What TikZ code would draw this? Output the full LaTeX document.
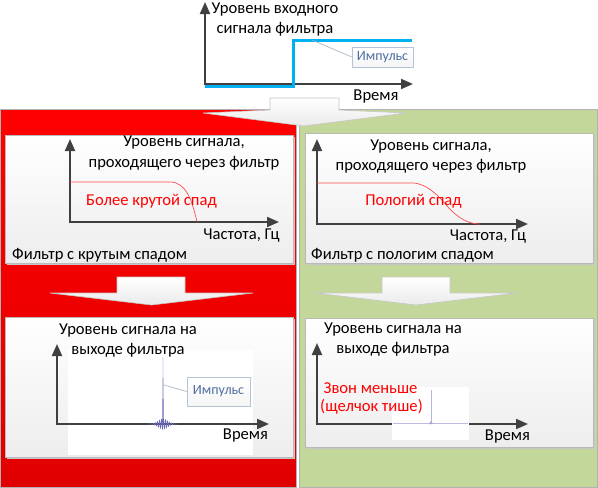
\documentclass[tikz,border=0pt]{standalone}
\usepackage{fontspec}
\setmainfont{Carlito}
\usetikzlibrary{arrows.meta}
\definecolor{axisgray}{HTML}{404040}
\definecolor{sigblue}{HTML}{00B0F0}
\definecolor{panelgreen}{HTML}{C4D79B}
\definecolor{calloutblue}{HTML}{4F6FA0}
\definecolor{calloutborder}{HTML}{B4C4D8}
\definecolor{wave}{HTML}{6A6AB8}
\definecolor{panelred}{HTML}{FF0000}
\tikzset{
  axisline/.style={draw=axisgray, line width=2pt, -{Triangle[length=12pt,width=10pt]}},
  lbl/.style={font=\fontsize{16.6}{19}\selectfont, text=black, inner sep=0pt},
  redlbl/.style={lbl, text=red},
  innerbox/.style={draw=gray!55, line width=0.8pt, top color=white, bottom color=black!7},
  boxshadow/.style={fill=gray!45},
  downarrow/.style={draw=gray!45, line width=0.6pt, top color=white, bottom color=black!8},
  callout/.style={draw=calloutborder, line width=0.6pt, top color=white, bottom color=black!4,
    minimum width=61pt, minimum height=20pt, inner sep=0pt, text=calloutblue,
    font=\fontsize{14}{16}\selectfont},
  calloutline/.style={draw=calloutborder!90!black, line width=0.6pt},
  response/.style={draw=red!70, line width=0.7pt},
}
\begin{document}
\begin{tikzpicture}[x=1pt,y=-1pt]
\useasboundingbox (0,0) rectangle (598,488);
\fill[white] (0,0) rectangle (598,488);

% ---------- top chart ----------
\draw[axisline] (205,84) -- (205,2);
\draw[axisline] (204,84) -- (413,84);
\draw[sigblue, line width=3pt] (205,86) -- (293,86) -- (293,40) -- (412,40);
\node[lbl] (t1) at (275,10) {Уровень входного};
\node[lbl] (t2) at (275,29) {сигнала фильтра};
\node[lbl] (t3) at (376,97) {Время};
\node[callout] (ib1) at (382.5,57) {Импульс};
\coordinate (cp1) at (312,40);
\draw[calloutline] (cp1) -- (ib1.west);

% ---------- panels ----------
\shade[top color=panelred, bottom color=panelred!88!black, draw=gray!60, line width=0.8pt]
  (0.5,109) rectangle (296,487.5);
\fill[panelgreen, draw=gray!60, line width=0.8pt] (299,109) rectangle (597.5,487.5);

% top down arrow
\path[downarrow] (270,98) -- (339,98) -- (339,110) -- (406,113) -- (304,126) -- (203,113) -- (270,110) -- cycle;

% ---------- left top box ----------
\fill[boxshadow] (6.5,136.5) rectangle (294.5,264.5);
\path[innerbox] (5,135) rectangle (293,263);
\draw[axisline] (70,222) -- (70,139);
\draw[axisline] (69,222) -- (279,222);
\draw[response] (70,182) -- (170,182) .. controls (186,182) and (192,200) .. (197,222);
\node[lbl] (a1) at (184,143) {Уровень сигнала,};
\node[lbl] (a2) at (184,163) {проходящего через фильтр};
\node[redlbl] (a3) at (151.5,201) {Более крутой спад};
\node[lbl] (a4) at (241.5,236) {Частота, Гц};
\node[lbl, anchor=west] (a5) at (12,255) {Фильтр с крутым спадом};

% ---------- right top box ----------
\fill[boxshadow] (306.5,134.5) rectangle (594.5,264.5);
\path[innerbox] (305,133) rectangle (593,263);
\draw[axisline] (317,224) -- (317,139);
\draw[axisline] (316,224) -- (528,224);
\draw[response] (317,183) -- (412,183) .. controls (428,183) and (440,198) .. (448,207)
  .. controls (458,218) and (468,224) .. (480,224);
\node[lbl] (b1) at (431,147) {Уровень сигнала,};
\node[lbl] (b2) at (431,166) {проходящего через фильтр};
\node[redlbl] (b3) at (413.5,201) {Пологий спад};
\node[lbl] (b4) at (488,237) {Частота, Гц};
\node[lbl, anchor=west] (b5) at (311,255) {Фильтр с пологим спадом};

% ---------- lower arrows ----------
\path[downarrow] (117,277) -- (185,277) -- (185,293) -- (253,293) -- (151.5,305) -- (50,293) -- (117,293) -- cycle;
\path[downarrow] (382,277) -- (450,277) -- (450,293) -- (517,293) -- (416,305) -- (315,293) -- (382,293) -- cycle;

% ---------- left bottom box ----------
\fill[boxshadow] (6.5,318.5) rectangle (294.5,458.5);
\path[innerbox] (5,317) rectangle (293,457);
\fill[white] (68,350) rectangle (253,455);
\draw[axisline] (57,424) -- (57,344);
\draw[axisline] (56,424) -- (269,424);
\draw[wave, line width=0.5pt] plot[domain=0:30, samples=241, smooth]
  ({148+\x}, {424 + 5*exp(-((\x-15)^2)/45)*sin(180*\x)});
\fill[wave] (162.2,424) -- (163,357) -- (163.8,424) -- cycle;
\node[lbl] (c1) at (128,331) {Уровень сигнала на};
\node[lbl] (c2) at (128,350) {выходе фильтра};
\node[lbl] (c3) at (245.5,436) {Время};
\node[callout, minimum width=63pt, minimum height=29pt] (ib2) at (218.5,391.5) {Импульс};
\coordinate (cp2) at (164,385);
\draw[calloutline] (cp2) -- (ib2.west);

% ---------- right bottom box ----------
\fill[boxshadow] (306.5,319.5) rectangle (594.5,448.5);
\path[innerbox] (305,318) rectangle (593,447);
\draw[axisline] (317,424) -- (317,343);
\draw[axisline] (316,424) -- (528,424);
\fill[white] (392,387) rectangle (469,440);
\draw[wave!45, line width=0.8pt] (393,423.5) -- (468,423.5);
\draw[wave!50, line width=0.7pt] (431,390) -- (431,424);
\fill[wave!60] (429,424) -- (431,421) -- (433,424) -- cycle;
\node[lbl] (d1) at (393,330) {Уровень сигнала на};
\node[lbl] (d2) at (393,349) {выходе фильтра};
\node[redlbl] (d3) at (370.5,388) {Звон меньше};
\node[redlbl] (d4) at (371.5,407) {(щелчок тише)};
\node[lbl] (d5) at (507.5,437) {Время};
\end{tikzpicture}
\end{document}
